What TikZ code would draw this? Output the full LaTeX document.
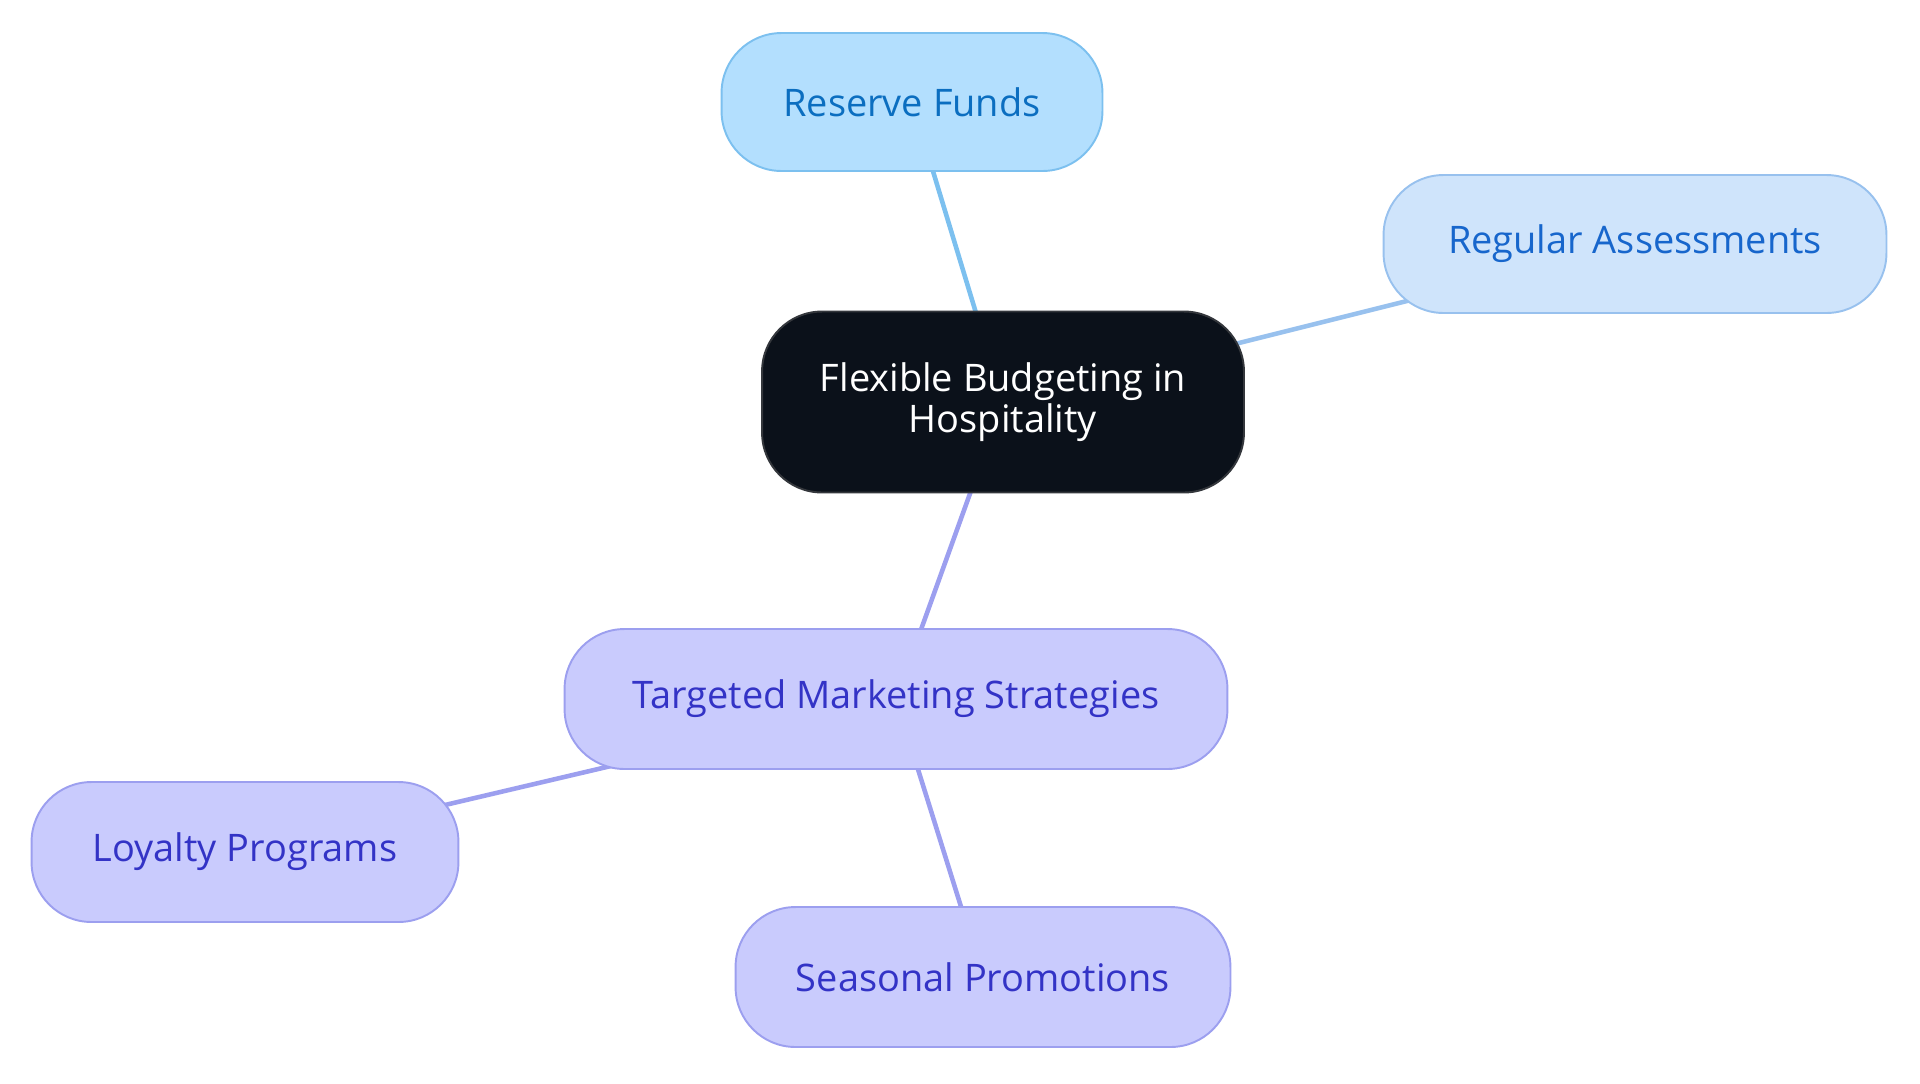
\documentclass[tikz,border=0pt]{standalone}
\usepackage{fontspec}
\setmainfont{Open Sans}
\usetikzlibrary{backgrounds}
\definecolor{rfFill}{HTML}{B3DFFE}
\definecolor{rfLine}{HTML}{7CC0EF}
\definecolor{rfText}{HTML}{0B6EC0}
\definecolor{raFill}{HTML}{CFE4FB}
\definecolor{raLine}{HTML}{98C1EE}
\definecolor{raText}{HTML}{1766CC}
\definecolor{ctFill}{HTML}{0B111A}
\definecolor{ctLine}{HTML}{34373C}
\definecolor{ppFill}{HTML}{C9CBFD}
\definecolor{ppLine}{HTML}{9C9FEF}
\definecolor{ppText}{HTML}{3333C6}
\begin{document}
\begin{tikzpicture}[x=0.02cm,y=-0.02cm,
  box/.style={rectangle, rounded corners=1.2cm, line width=1.1pt, align=center,
    inner sep=0pt, font=\fontsize{21.6}{23.6}\selectfont},
  rf/.style={box, fill=rfFill, draw=rfLine, text=rfText},
  ra/.style={box, fill=raFill, draw=raLine, text=raText},
  ct/.style={box, fill=ctFill, draw=ctLine, text=white},
  pp/.style={box, fill=ppFill, draw=ppLine, text=ppText},
  link/.style={line width=2.6pt}]
\useasboundingbox (0,0) rectangle (1920,1083);
\node[ct, minimum width=9.64cm, minimum height=3.62cm] (c) at (1003,402) {Flexible Budgeting in\\Hospitality};
\node[rf, minimum width=7.62cm, minimum height=2.76cm] (rf) at (912,102) {Reserve Funds};
\node[ra, minimum width=10.06cm, minimum height=2.76cm] (ra) at (1635,244) {Regular Assessments};
\node[pp, minimum width=13.26cm, minimum height=2.8cm] (tm) at (896,699) {Targeted Marketing Strategies};
\node[pp, minimum width=8.54cm, minimum height=2.8cm] (lp) at (245,852) {Loyalty Programs};
\node[pp, minimum width=9.9cm, minimum height=2.8cm] (sp) at (983,977) {Seasonal Promotions};
\begin{pgfonlayer}{background}
\draw[link, rfLine] (c.center) -- (rf.center);
\draw[link, raLine] (c.center) -- (ra.center);
\draw[link, ppLine] (c.center) -- (tm.center);
\draw[link, ppLine] (tm.center) -- (lp.center);
\draw[link, ppLine] (tm.center) -- (sp.center);
\end{pgfonlayer}
\end{tikzpicture}
\end{document}
